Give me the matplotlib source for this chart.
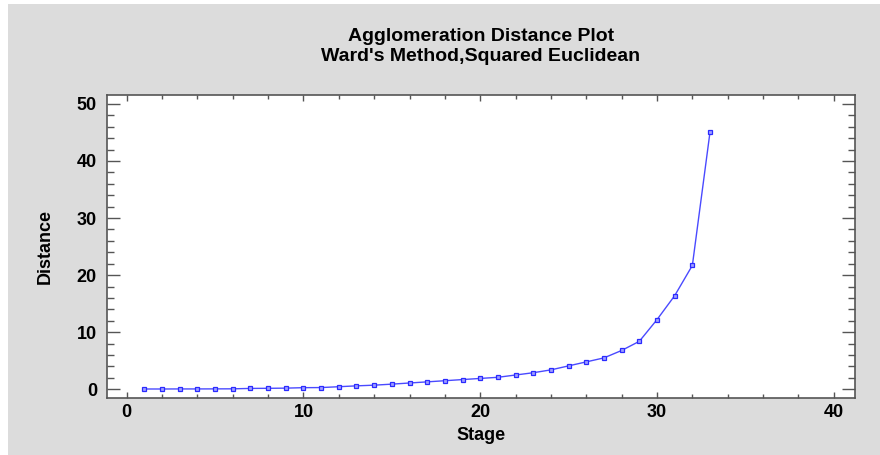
import matplotlib
matplotlib.use("Agg")
import matplotlib.pyplot as plt
from matplotlib.patches import Rectangle
from matplotlib.ticker import MultipleLocator

stages = list(range(1, 34))
distances = [0.05, 0.05, 0.06, 0.06, 0.07, 0.08, 0.15, 0.17, 0.2, 0.28,
             0.3, 0.45, 0.6, 0.72, 0.9, 1.1, 1.3, 1.5, 1.7, 1.9,
             2.1, 2.5, 2.9, 3.4, 4.1, 4.8, 5.5, 6.8, 8.4, 12.2,
             16.4, 21.7, 45.1]
title_text = "Agglomeration Distance Plot\nWard's Method,Squared Euclidean"
xlabel_text = "Stage"
ylabel_text = "Distance"

plt.rcParams['font.family'] = ['Liberation Sans', 'DejaVu Sans']

fig = plt.figure(figsize=(8.8, 4.55), dpi=100)
fig.patch.set_facecolor('white')
fig.add_artist(Rectangle((8/880, 0), 1, 451/455, transform=fig.transFigure,
                         facecolor='#dcdcdc', edgecolor='none', zorder=0))

ax = fig.add_axes([106.7/880, (455-398.3)/455, (855-106.7)/880, (398.3-94.7)/455])
ax.set_facecolor('white')
ax.plot(stages, distances, color='#4a4aff', lw=1.0, marker='s', ms=3.5,
        mfc='#a0a0ff', mec='#2a2aff', mew=0.9)

ax.set_xlim(-1.13, 41.2)
ax.set_ylim(-1.58, 51.6)
ax.xaxis.set_major_locator(MultipleLocator(10))
ax.xaxis.set_minor_locator(MultipleLocator(2))
ax.yaxis.set_major_locator(MultipleLocator(10))
ax.yaxis.set_minor_locator(MultipleLocator(2))

ax.tick_params(axis='both', which='both', direction='in', top=True, right=True,
               color='#555555', width=1.0)
ax.tick_params(axis='y', which='major', length=9.4)
ax.tick_params(axis='y', which='minor', length=5)
ax.tick_params(axis='x', which='major', length=4.5)
ax.tick_params(axis='x', which='minor', length=3)
ax.tick_params(axis='both', which='major', labelsize=13)
ax.tick_params(axis='x', which='major', pad=4)
ax.tick_params(axis='y', which='major', pad=7)
for lab in ax.get_xticklabels() + ax.get_yticklabels():
    lab.set_fontweight('bold')

for s in ax.spines.values():
    s.set_color('#555555')
    s.set_linewidth(1.2)

ax.set_xlabel(xlabel_text, fontsize=13, fontweight='bold', labelpad=4.5)
ax.set_ylabel(ylabel_text, fontsize=13, fontweight='bold', labelpad=16.5)
fig.text(481/880, 1 - 46.5/455, title_text, ha='center', va='center',
         fontsize=14, fontweight='bold', linespacing=1.3)

fig.savefig('out.png', dpi=100, facecolor=fig.get_facecolor())
